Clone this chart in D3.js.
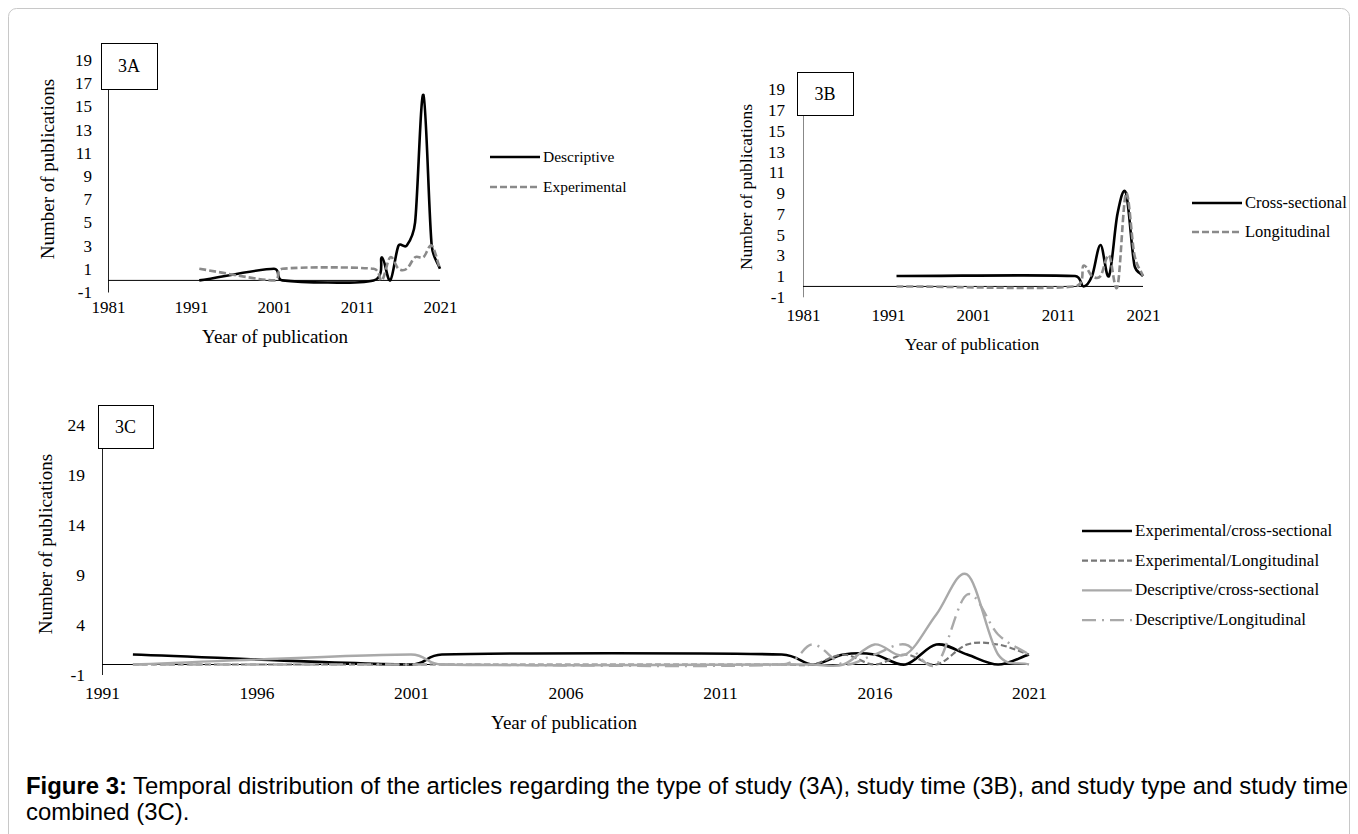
<!DOCTYPE html>
<html lang="en">
<head>
<meta charset="UTF-8">
<title>Figure 3 - Temporal distribution</title>
<script src="https://cdnjs.cloudflare.com/ajax/libs/d3/7.8.5/d3.min.js"></script>
<style>
  body { margin: 0; background: #fff; }
  svg { display: block; }
  .serif { font-family: 'Liberation Serif', 'Times New Roman', serif; fill: #000; }
  .caption { font-family: 'Liberation Sans', Arial, sans-serif; font-size: 23.9px; fill: #000; }
</style>
</head>
<body>
<svg id="fig" width="1358" height="834"></svg>
<script>
// --- 3A: type of study
const yearsA = [1992, 2001, 2002, 2013, 2014, 2015, 2016, 2017, 2018, 2019, 2020, 2021];
const descriptive = [0, 1, 0, 0, 2, 0, 3, 3, 5, 16, 3, 1];
const experimental = [1, 0, 1, 1, 0, 2, 1, 1, 2, 2, 3, 1];

// --- 3B: study time
const yearsB = [1992, 2013, 2014, 2015, 2016, 2017, 2018, 2019, 2020, 2021];
const crossSectional = [1, 1, 0, 1, 4, 1, 7, 9, 2, 1];
const longitudinal = [0, 0, 2, 1, 1, 3, 0, 9, 3, 1];

// --- 3C: type and time combined
const yearsC = [1992, 2001, 2002, 2013, 2014, 2015, 2016, 2017, 2018, 2019, 2020, 2021];
const expCross = [1, 0, 1, 1, 0, 1, 1, 0, 2, 1, 0, 1];
const expLong = [0, 0, 0, 0, 0, 1, 0, 1, 0, 2, 2, 1];
const descCross = [0, 1, 0, 0, 0, 0, 2, 1, 5, 9, 1, 0];
const descLong = [0, 0, 0, 0, 2, 0, 1, 2, 0, 7, 3, 1];

// tick labels
const xTicksAB = [1981, 1991, 2001, 2011, 2021];
const yTicksAB = [-1, 1, 3, 5, 7, 9, 11, 13, 15, 17, 19];
const xTicksC = [1991, 1996, 2001, 2006, 2011, 2016, 2021];
const yTicksC = [-1, 4, 9, 14, 19, 24];

const svg = d3.select("#fig");

// frame around the figure
svg.append("rect")
  .attr("x", 8.5).attr("y", 8.5)
  .attr("width", 1341).attr("height", 900)
  .attr("rx", 8)
  .attr("fill", "none")
  .attr("stroke", "#c8c8c8");

const styles = {
  black:    { color: "#000", width: 2.6, dash: null },
  grayDash: { color: "#8a8a8a", width: 2.6, dash: "7,3" },
  darkDash: { color: "#777", width: 2.2, dash: "6,3" },
  lightSolid: { color: "#a9a9a9", width: 2.4, dash: null },
  dashDot:  { color: "#a9a9a9", width: 2.4, dash: "14,6,2,6" }
};

// spreadsheet-like smoothing: uniform Catmull-Rom arms,
// each arm clamped to half of its segment so short steps don't loop
function smoothCurve(context) {
  let pts = [];
  return {
    areaStart() {}, areaEnd() {},
    lineStart() { pts = []; },
    point(x, y) { pts.push([+x, +y]); },
    lineEnd() {
      const n = pts.length;
      if (!n) return;
      context.moveTo(pts[0][0], pts[0][1]);
      if (n === 1) return;
      const d = [];
      for (let i = 0; i < n - 1; i++) {
        d.push(Math.hypot(pts[i + 1][0] - pts[i][0], pts[i + 1][1] - pts[i][1]) || 1e-6);
      }
      const arm = pts.map((p, i) => {
        const a = pts[Math.max(0, i - 1)], b = pts[Math.min(n - 1, i + 1)];
        const f = (i === 0 || i === n - 1) ? 3 : 6;
        return [(b[0] - a[0]) / f, (b[1] - a[1]) / f];
      });
      const clamp = (v, len) => {
        const m = Math.hypot(v[0], v[1]);
        const s = m > len ? len / m : 1;
        return [v[0] * s, v[1] * s];
      };
      for (let i = 0; i < n - 1; i++) {
        const a = clamp(arm[i], d[i] * 0.5);
        const b = clamp(arm[i + 1], d[i] * 0.5);
        context.bezierCurveTo(
          pts[i][0] + a[0], pts[i][1] + a[1],
          pts[i + 1][0] - b[0], pts[i + 1][1] - b[1],
          pts[i + 1][0], pts[i + 1][1]);
      }
    }
  };
}

function panel(o) {
  const g = svg.append("g");
  const x = d3.scaleLinear().domain(o.xDomain).range(o.xRange);
  const y = d3.scaleLinear().domain(o.yDomain).range(o.yRange);

  // y axis (line + labels)
  const yAxis = g.append("g")
    .attr("transform", `translate(${o.xRange[0]},0)`)
    .call(d3.axisLeft(y).tickValues(o.yTicks).tickFormat(d => String(d))
      .tickSize(0).tickSizeOuter(0).tickPadding(o.yPad));
  yAxis.select(".domain").attr("stroke", o.axisColor).attr("stroke-width", 1);
  yAxis.selectAll("text").attr("class", "serif").style("font-size", o.tickSize + "px");

  // x labels sit below the plot, no tick marks
  const xAxis = g.append("g")
    .attr("transform", `translate(0,${y(o.yDomain[0])})`)
    .call(d3.axisBottom(x).tickValues(o.xTicks).tickFormat(d => String(d))
      .tickSize(0).tickPadding(o.xPad));
  xAxis.select(".domain").remove();
  xAxis.selectAll("text").attr("class", "serif").style("font-size", o.tickSize + "px");

  // horizontal line at zero
  g.append("line")
    .attr("x1", o.xRange[0]).attr("x2", o.xRange[1])
    .attr("y1", y(0)).attr("y2", y(0))
    .attr("stroke", "#000").attr("stroke-width", 1);

  const line = d3.line()
    .x(d => x(d[0]))
    .y(d => y(d[1]))
    .curve(smoothCurve);

  o.series.forEach(s => {
    const st = styles[s.style];
    g.append("path")
      .datum(s.years.map((yr, i) => [yr, s.values[i]]))
      .attr("d", line)
      .attr("fill", "none")
      .attr("stroke", st.color)
      .attr("stroke-width", st.width)
      .attr("stroke-dasharray", st.dash)
      .attr("stroke-linejoin", "round");
  });

  // axis titles
  g.append("text").attr("class", "serif")
    .attr("x", o.xTitle[0]).attr("y", o.xTitle[1])
    .attr("text-anchor", "middle")
    .style("font-size", o.titleSize + "px")
    .text("Year of publication");
  g.append("text").attr("class", "serif")
    .attr("transform", `translate(${o.yTitle[0]},${o.yTitle[1]}) rotate(-90)`)
    .attr("text-anchor", "middle")
    .style("font-size", o.titleSize + "px")
    .text("Number of publications");

  // panel label box
  g.append("rect")
    .attr("x", o.box[0] + 0.5).attr("y", o.box[1] + 0.5)
    .attr("width", o.box[2]).attr("height", o.box[3])
    .attr("fill", "#fff").attr("stroke", "#000").attr("stroke-width", 1);
  g.append("text").attr("class", "serif")
    .attr("x", o.box[0] + o.box[2] / 2).attr("y", o.box[1] + o.box[3] / 2 + 6)
    .attr("text-anchor", "middle")
    .style("font-size", "18px")
    .text(o.label);

  // legend
  o.series.forEach((s, i) => {
    const st = styles[s.style];
    const ly = o.legend[1] + i * o.legend[2];
    g.append("line")
      .attr("x1", o.legend[0]).attr("x2", o.legend[0] + 50)
      .attr("y1", ly).attr("y2", ly)
      .attr("stroke", st.color)
      .attr("stroke-width", st.width)
      .attr("stroke-dasharray", st.dash);
    g.append("text").attr("class", "serif")
      .attr("x", o.legend[0] + 53).attr("y", ly + 5)
      .style("font-size", o.legendSize + "px")
      .text(s.name);
  });
}

panel({
  label: "3A",
  xDomain: [1981, 2021], xRange: [108, 440],
  yDomain: [-1, 20.5], yRange: [292, 42.6],
  xTicks: xTicksAB, yTicks: yTicksAB,
  yPad: 16, xPad: 9, tickSize: 17, titleSize: 19, axisColor: "#222",
  xTitle: [275, 343], yTitle: [54, 169],
  box: [101, 43, 56, 46],
  legend: [490, 157, 30], legendSize: 15.5,
  series: [
    { name: "Descriptive", years: yearsA, values: descriptive, style: "black" },
    { name: "Experimental", years: yearsA, values: experimental, style: "grayDash" }
  ]
});

panel({
  label: "3B",
  xDomain: [1981, 2021], xRange: [803, 1143],
  yDomain: [-1, 20.5], yRange: [296.8, 73.8],
  xTicks: xTicksAB, yTicks: yTicksAB,
  yPad: 18, xPad: 12, tickSize: 17, titleSize: 17.5, axisColor: "#888",
  xTitle: [972, 350], yTitle: [752, 187],
  box: [797, 72, 56, 43],
  legend: [1192, 203, 29], legendSize: 16.5,
  series: [
    { name: "Cross-sectional", years: yearsB, values: crossSectional, style: "black" },
    { name: "Longitudinal", years: yearsB, values: longitudinal, style: "grayDash" }
  ]
});

panel({
  label: "3C",
  xDomain: [1991, 2021], xRange: [102, 1029],
  yDomain: [-1, 25.5], yRange: [674.5, 409.5],
  xTicks: xTicksC, yTicks: yTicksC,
  yPad: 17, xPad: 12, tickSize: 17.5, titleSize: 19, axisColor: "#222",
  xTitle: [564, 729], yTitle: [52, 544],
  box: [98, 405, 55, 43],
  legend: [1082, 531, 29.7], legendSize: 17,
  series: [
    { name: "Experimental/cross-sectional", years: yearsC, values: expCross, style: "black" },
    { name: "Experimental/Longitudinal", years: yearsC, values: expLong, style: "darkDash" },
    { name: "Descriptive/cross-sectional", years: yearsC, values: descCross, style: "lightSolid" },
    { name: "Descriptive/Longitudinal", years: yearsC, values: descLong, style: "dashDot" }
  ]
});

// caption
const cap = svg.append("text").attr("class", "caption").attr("x", 26).attr("y", 794);
cap.append("tspan").style("font-weight", "bold").text("Figure 3:");
cap.append("tspan").text(" Temporal distribution of the articles regarding the type of study (3A), study time (3B), and study type and study time");
svg.append("text").attr("class", "caption").attr("x", 26).attr("y", 820).text("combined (3C).");
</script>
</body>
</html>
